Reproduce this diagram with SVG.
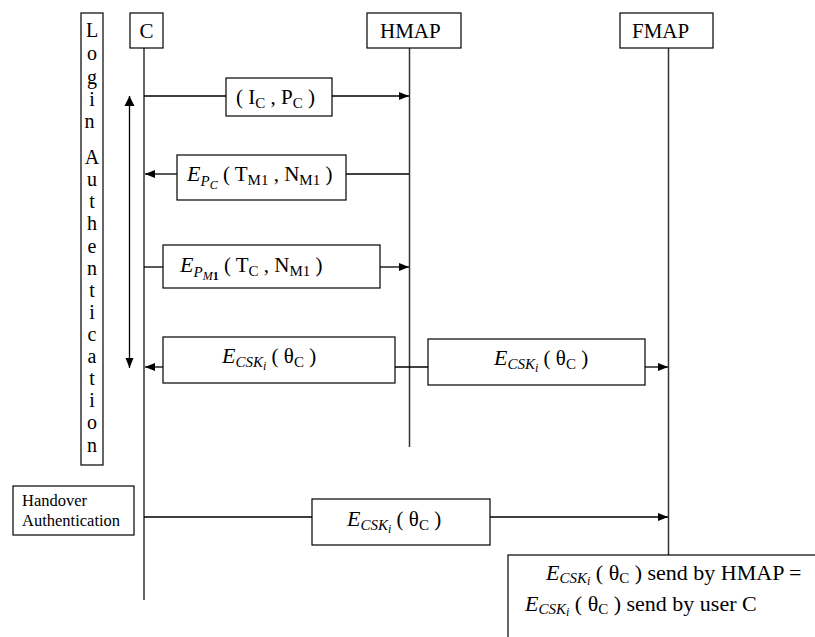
<svg xmlns="http://www.w3.org/2000/svg" width="815" height="637" viewBox="0 0 815 637">
  <defs>
    <marker id="arr" viewBox="0 0 10 10" refX="10" refY="5" markerWidth="10" markerHeight="10" markerUnits="userSpaceOnUse" orient="auto">
      <path d="M0,1 L10,5 L0,9 z" fill="#000"/>
    </marker>
    <marker id="arrStart" viewBox="0 0 10 10" refX="0" refY="5" markerWidth="10" markerHeight="12" markerUnits="userSpaceOnUse" orient="auto">
      <path d="M10,0 L0,5 L10,10 z" fill="#000"/>
    </marker>
  </defs>
  <style>
    .box { fill: #fff; stroke: #000; stroke-width: 1.2; }
    .life { stroke: #333; stroke-width: 1.5; fill: none; }
    .ln { stroke: #000; stroke-width: 1.3; fill: none; }
    .t { font-family: 'Liberation Serif', 'DejaVu Serif', serif; font-size: 21px; fill: #000; }
    .m { font-style: italic; }
    .me { font-style: italic; font-size: 22px; }
    .sub { font-size: 15px; }
    .sub2 { font-size: 12px; }
    .small { font-size: 16.5px; }
    .lg { font-size: 20px; }
    .big { font-size: 22px; }
  </style>
  <rect width="815" height="637" fill="#fff"/>

  <!-- lifelines and connectors -->
  <g id="connectors">
    <line class="life" x1="144" y1="48" x2="144" y2="600"/>
    <line class="life" x1="409.5" y1="48" x2="409.5" y2="447"/>
    <line class="life" x1="668.5" y1="48" x2="668.5" y2="555"/>
    <!-- login phase span -->
    <line class="ln" x1="129.5" y1="96" x2="129.5" y2="368" marker-start="url(#arrStart)" marker-end="url(#arr)"/>
    <!-- message 1 -->
    <line class="ln" x1="144" y1="96" x2="226" y2="96"/>
    <line class="ln" x1="332" y1="96" x2="409" y2="96" marker-end="url(#arr)"/>
    <!-- message 2 -->
    <line class="ln" x1="409" y1="174" x2="346" y2="174"/>
    <line class="ln" x1="177" y1="174" x2="145" y2="174" marker-end="url(#arr)"/>
    <!-- message 3 -->
    <line class="ln" x1="144" y1="267" x2="163" y2="267"/>
    <line class="ln" x1="380" y1="267" x2="409" y2="267" marker-end="url(#arr)"/>
    <!-- message 4 -->
    <line class="ln" x1="163" y1="367" x2="145" y2="367" marker-end="url(#arr)"/>
    <line class="ln" x1="395" y1="367" x2="428" y2="367"/>
    <line class="ln" x1="645" y1="367" x2="668" y2="367" marker-end="url(#arr)"/>
    <!-- handover message -->
    <line class="ln" x1="144" y1="517" x2="312" y2="517"/>
    <line class="ln" x1="490" y1="517" x2="668" y2="517" marker-end="url(#arr)"/>
  </g>

  <g font-family="'Liberation Serif', 'DejaVu Serif', serif">
  <g id="login">
    <rect class="box" x="81" y="13" width="22" height="452"/>
    <text class="t lg" x="92" text-anchor="middle">
      <tspan x="92" y="37">L</tspan><tspan x="92" y="60">o</tspan><tspan x="92" y="84">g</tspan><tspan x="92" y="106">i</tspan><tspan x="92" y="128">n</tspan>
      <tspan x="92" y="164">A</tspan><tspan x="92" y="186">u</tspan><tspan x="92" y="208">t</tspan><tspan x="92" y="230">h</tspan><tspan x="92" y="253">e</tspan><tspan x="92" y="275">n</tspan><tspan x="92" y="297">t</tspan><tspan x="92" y="319">i</tspan><tspan x="92" y="341">c</tspan><tspan x="92" y="363">a</tspan><tspan x="92" y="385">t</tspan><tspan x="92" y="407">i</tspan><tspan x="92" y="429">o</tspan><tspan x="92" y="452">n</tspan>
    </text>
  </g>

  <g id="nodeC">
    <rect class="box" x="130" y="13" width="33" height="35"/>
    <text class="t" x="146.5" y="38" text-anchor="middle">C</text>
  </g>
  <g id="nodeHMAP">
    <rect class="box" x="367" y="13" width="94" height="35"/>
    <text class="t" x="380" y="38">HMAP</text>
  </g>
  <g id="nodeFMAP">
    <rect class="box" x="620" y="13" width="93" height="35"/>
    <text class="t" x="632" y="38">FMAP</text>
  </g>

  <g id="msg1">
    <rect class="box" x="226" y="78" width="106" height="38"/>
    <text class="t" x="236" y="104">( I<tspan class="sub" dy="4">C</tspan><tspan dy="-4"> , P</tspan><tspan class="sub" dy="4">C</tspan><tspan dy="-4"> )</tspan></text>
  </g>

  <g id="msg2">
    <rect class="box" x="177" y="155" width="169" height="45"/>
    <text class="t" x="187" y="181"><tspan class="me">E</tspan><tspan class="m sub" dy="5">P</tspan><tspan class="m sub2" dy="3">C</tspan><tspan dy="-8"> ( T</tspan><tspan class="sub" dy="4">M1</tspan><tspan dy="-4"> , N</tspan><tspan class="sub" dy="4">M1</tspan><tspan dy="-4"> )</tspan></text>
  </g>

  <g id="msg3">
    <rect class="box" x="163" y="245" width="217" height="43"/>
    <text class="t" x="180" y="272"><tspan class="me">E</tspan><tspan class="m sub" dy="5">P</tspan><tspan class="m sub2" dy="3">M</tspan><tspan class="sub2" font-weight="bold">1</tspan><tspan dy="-8"> ( T</tspan><tspan class="sub" dy="4">C</tspan><tspan dy="-4"> , N</tspan><tspan class="sub" dy="4">M1</tspan><tspan dy="-4">  )</tspan></text>
  </g>

  <g id="msg4a">
    <rect class="box" x="163" y="337" width="232" height="46"/>
    <text class="t" x="222" y="363"><tspan class="me">E</tspan><tspan class="m sub" dy="4">CSK</tspan><tspan class="m sub2" dy="3">i</tspan><tspan dy="-7"> ( θ</tspan><tspan class="sub" dy="4">C</tspan><tspan dy="-4"> )</tspan></text>
  </g>

  <g id="msg4b">
    <rect class="box" x="428" y="339" width="217" height="46"/>
    <text class="t" x="494" y="365"><tspan class="me">E</tspan><tspan class="m sub" dy="4">CSK</tspan><tspan class="m sub2" dy="3">i</tspan><tspan dy="-7"> ( θ</tspan><tspan class="sub" dy="4">C</tspan><tspan dy="-4"> )</tspan></text>
  </g>

  <g id="handover">
    <rect class="box" x="13" y="486" width="121" height="49"/>
    <text class="t small" x="22" y="506">Handover</text>
    <text class="t small" x="22" y="526">Authentication</text>
  </g>

  <g id="msg5">
    <rect class="box" x="312" y="499" width="178" height="46"/>
    <text class="t" x="347" y="526"><tspan class="me">E</tspan><tspan class="m sub" dy="4">CSK</tspan><tspan class="m sub2" dy="3">i</tspan><tspan dy="-7"> ( θ</tspan><tspan class="sub" dy="4">C</tspan><tspan dy="-4"> )</tspan></text>
  </g>

  <g id="result">
    <rect class="box" x="508" y="555" width="320" height="100"/>
    <text class="t big" x="546" y="580"><tspan class="me">E</tspan><tspan class="m sub" dy="3">CSK</tspan><tspan class="m sub2" dy="2">i</tspan><tspan dy="-5"> ( θ</tspan><tspan class="sub" dy="3">C</tspan><tspan dy="-3"> ) send by HMAP =</tspan></text>
    <text class="t big" x="525" y="611"><tspan class="me">E</tspan><tspan class="m sub" dy="3">CSK</tspan><tspan class="m sub2" dy="2">i</tspan><tspan dy="-5"> ( θ</tspan><tspan class="sub" dy="3">C</tspan><tspan dy="-3"> ) send by user C</tspan></text>
  </g>
  </g>
</svg>
